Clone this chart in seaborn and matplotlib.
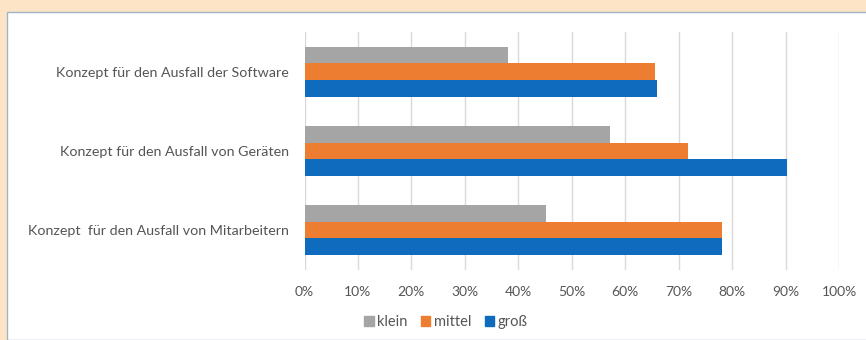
import matplotlib
matplotlib.use("Agg")
import matplotlib.pyplot as plt
from matplotlib.patches import Rectangle
from matplotlib.ticker import PercentFormatter
import seaborn as sns
import pandas as pd

categories = [
    "Konzept für den Ausfall der Software",
    "Konzept für den Ausfall von Geräten",
    "Konzept  für den Ausfall von Mitarbeitern",
]
groups = ["klein", "mittel", "groß"]
klein = [38.1, 57.2, 45.2]
mittel = [65.6, 71.8, 78.2]
gross = [65.9, 90.2, 78.1]
x_ticks = [0, 10, 20, 30, 40, 50, 60, 70, 80, 90, 100]

rows = []
for name, vals in zip(groups, [klein, mittel, gross]):
    for cat, v in zip(categories, vals):
        rows.append({"Kategorie": cat, "Größe": name, "Anteil": v})
df = pd.DataFrame(rows)

sns.set_theme(style="white")
plt.rcParams["font.family"] = ["Lato", "DejaVu Sans"]

text_color = "#555555"
palette = {"klein": "#A5A5A5", "mittel": "#ED7D31", "groß": "#0F6BBE"}

W, H = 866, 340
fig = plt.figure(figsize=(W / 100, H / 100), dpi=100, facecolor="#FDE4C6")
fig.patches.append(Rectangle((7 / W, 0), 1, (H - 12) / H, transform=fig.transFigure,
                             facecolor="white", edgecolor="#9FB4C8", linewidth=1.0,
                             zorder=-10))

ax = fig.add_axes([304.5 / W, (H - 269.5) / H, 534.5 / W, 237.3 / H])
ax.set_zorder(5)
ax.set_facecolor("none")
sns.barplot(data=df, y="Kategorie", x="Anteil", hue="Größe", order=categories,
            hue_order=groups, palette=palette, orient="h", width=0.63,
            saturation=1, gap=0, linewidth=0, ax=ax, legend=False)

ax.set_xlim(0, 100)
ax.set_ylim(2.5, -0.5)
ax.set_xticks(x_ticks)
ax.xaxis.set_major_formatter(PercentFormatter(decimals=0))
ax.grid(axis="x", color="#DDD8D8", linewidth=1.0)
ax.set_axisbelow(True)
for s in ax.spines.values():
    s.set_visible(False)
ax.tick_params(axis="both", length=0, colors=text_color)
ax.tick_params(axis="x", pad=12, labelsize=10)
ax.tick_params(axis="y", pad=11, labelsize=10.3)
ax.set_xlabel("")
ax.set_ylabel("")

handles = [Rectangle((0, 0), 1, 1, color=palette[g]) for g in groups]
fig.legend(handles, groups, loc="center", bbox_to_anchor=(446 / W, (H - 322) / H),
           ncol=3, frameon=False, handlelength=0.65, handleheight=0.65,
           handletextpad=0.25, columnspacing=0.9, fontsize=10.5,
           labelcolor=text_color)

fig.savefig("out.png", dpi=100, facecolor=fig.get_facecolor())
